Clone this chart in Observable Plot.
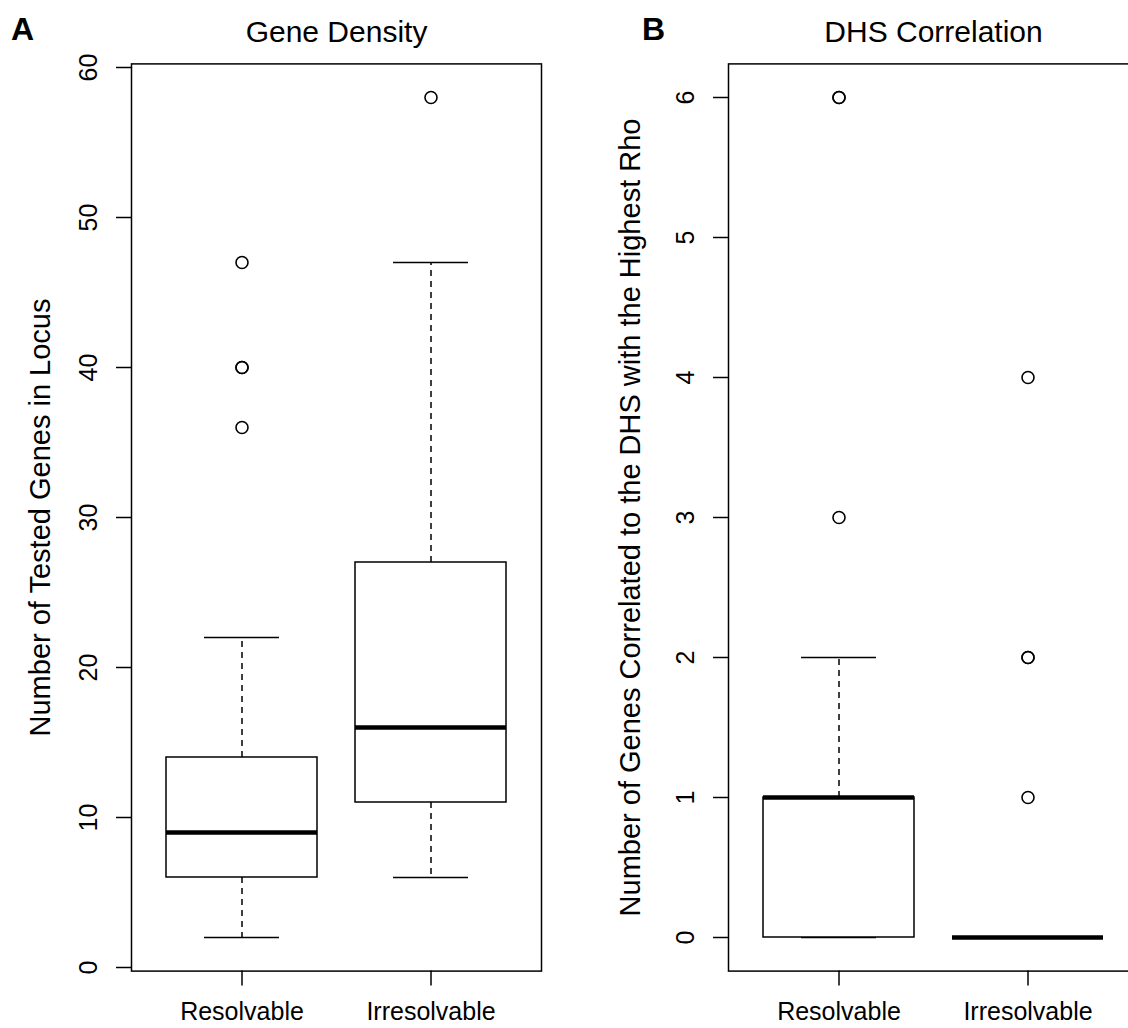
<!DOCTYPE html>
<html>
<head>
<meta charset="utf-8">
<script src="https://cdn.jsdelivr.net/npm/d3@7"></script>
<script src="https://cdn.jsdelivr.net/npm/@observablehq/plot@0.6"></script>
<style>
  html, body { margin: 0; padding: 0; background: white; overflow: hidden; }
  #fig { position: relative; width: 1128px; height: 1028px; overflow: hidden; }
  #fig svg { position: absolute; top: 0; max-width: none; }
</style>
</head>
<body>
<div id="fig"></div>
<script>
// Groups shared by both panels
const groups = ["Resolvable", "Irresolvable"];

// Panel A: number of tested genes in locus (five-number summaries per group)
const geneLo  = [2, 6];
const geneQ1  = [6, 11];
const geneMed = [9, 16];
const geneQ3  = [14, 27];
const geneHi  = [22, 47];
const geneOutResolvable   = [36, 40, 40, 47];
const geneOutIrresolvable = [58];
const geneTicks = [0, 10, 20, 30, 40, 50, 60];

// Panel B: genes correlated to the DHS with the highest rho
const dhsLo  = [0, 0];
const dhsQ1  = [0, 0];
const dhsMed = [1, 0];
const dhsQ3  = [1, 0];
const dhsHi  = [2, 0];
const dhsOutResolvable   = [3, 6, 6];
const dhsOutIrresolvable = [1, 2, 2, 4];
const dhsTicks = [0, 1, 2, 3, 4, 5, 6];

const FONT = "'Liberation Sans', Arial, Helvetica, sans-serif";
const LW = 1.5;

function summaries(lo, q1, med, q3, hi) {
  return groups.map((g, i) => ({group: g, lo: lo[i], q1: q1[i], med: med[i], q3: q3[i], hi: hi[i]}));
}
function outliers(resolvable, irresolvable) {
  return [
    ...resolvable.map(v => ({group: groups[0], value: v})),
    ...irresolvable.map(v => ({group: groups[1], value: v}))
  ];
}

function panel({letter, title, ylabel, stats, outs, ticks, yDomain, width, marginLeft, letterDx, labelDx}) {
  const marginRight = 23, marginTop = 63.4, marginBottom = 57.4;
  return Plot.plot({
    width, height: 1028,
    marginLeft, marginRight, marginTop, marginBottom,
    style: {fontFamily: FONT, fontSize: "25px", color: "black", background: "white"},
    x: {type: "band", domain: groups, paddingInner: 0.2, paddingOuter: 0.179, axis: null},
    y: {domain: yDomain, axis: null},
    marks: [
      // axis ticks
      Plot.axisY({ticks, tickSize: 15, tickFormat: () => "", label: null, strokeWidth: LW}),
      Plot.axisX({tickSize: 15, tickFormat: () => "", label: null, strokeWidth: LW}),
      // tick labels
      Plot.text(ticks, {y: d => d, text: d => String(d), frameAnchor: "left", dx: -43, rotate: -90,
        textAnchor: "middle", lineAnchor: "middle", fontSize: 25}),
      Plot.text(groups, {x: d => d, text: d => d, frameAnchor: "bottom", dy: 41,
        textAnchor: "middle", lineAnchor: "middle", fontSize: 25}),
      // whiskers
      Plot.ruleX(stats, {x: "group", y1: "q3", y2: "hi", stroke: "black", strokeWidth: LW, strokeDasharray: "6,5"}),
      Plot.ruleX(stats, {x: "group", y1: "q1", y2: "lo", stroke: "black", strokeWidth: LW, strokeDasharray: "6,5"}),
      // whisker caps
      Plot.tickY(stats, {x: "group", y: "hi", stroke: "black", strokeWidth: LW, insetLeft: 38, insetRight: 38}),
      Plot.tickY(stats, {x: "group", y: "lo", stroke: "black", strokeWidth: LW, insetLeft: 38, insetRight: 38}),
      // boxes
      Plot.barY(stats, {x: "group", y1: "q1", y2: "q3", fill: "white", stroke: "black", strokeWidth: LW}),
      // medians
      Plot.tickY(stats, {x: "group", y: "med", stroke: "black", strokeWidth: 4.5}),
      // outliers
      Plot.dot(outs, {x: "group", y: "value", r: 6, stroke: "black", fill: "none", strokeWidth: 1.6}),
      Plot.frame({stroke: "black", strokeWidth: LW}),
      // titles and labels
      Plot.text([title], {frameAnchor: "top", dy: -32, textAnchor: "middle", lineAnchor: "middle", fontSize: 30}),
      Plot.text([letter], {frameAnchor: "top-left", dx: letterDx, dy: -34, textAnchor: "middle", lineAnchor: "middle",
        fontSize: 32, fontWeight: "bold"}),
      Plot.text([ylabel], {frameAnchor: "left", dx: labelDx, rotate: -90, textAnchor: "middle", lineAnchor: "middle",
        fontSize: 29})
    ]
  });
}

const fig = document.getElementById("fig");

const a = panel({
  letter: "A",
  title: "Gene Density",
  ylabel: "Number of Tested Genes in Locus",
  stats: summaries(geneLo, geneQ1, geneMed, geneQ3, geneHi),
  outs: outliers(geneOutResolvable, geneOutIrresolvable),
  ticks: geneTicks,
  yDomain: [-0.24, 60.24],
  width: 564, marginLeft: 131, letterDx: -109, labelDx: -91
});
a.style.left = "0px";
fig.appendChild(a);

const b = panel({
  letter: "B",
  title: "DHS Correlation",
  ylabel: "Number of Genes Correlated to the DHS with the Highest Rho",
  stats: summaries(dhsLo, dhsQ1, dhsMed, dhsQ3, dhsHi),
  outs: outliers(dhsOutResolvable, dhsOutIrresolvable),
  ticks: dhsTicks,
  yDomain: [-0.24, 6.24],
  width: 597, marginLeft: 164, letterDx: -75, labelDx: -98
});
b.style.left = "564px";
fig.appendChild(b);
</script>
</body>
</html>
